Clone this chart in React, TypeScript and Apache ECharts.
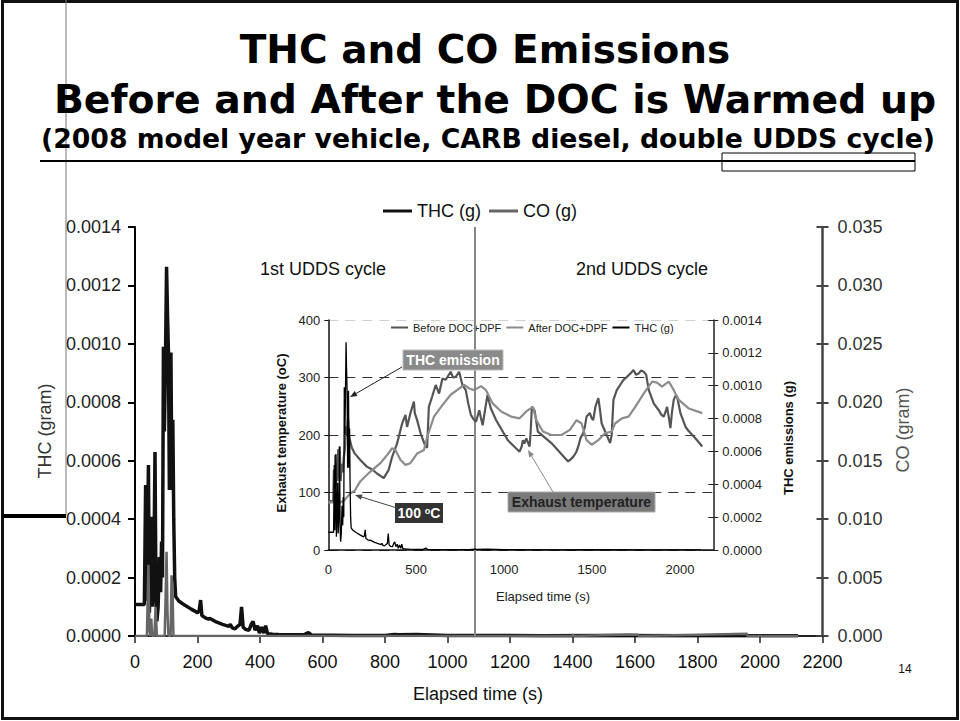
import React, { useEffect, useRef } from "react";
import * as echarts from "echarts";

// ---------- DATA ----------
// Main chart: THC (g) per second, elapsed time (s)
const thcTime = [0, 30, 34, 37, 40, 43, 46, 49, 53, 56, 60, 64, 67, 70, 74, 78, 82, 85, 88, 91, 94, 97, 101, 104, 107, 110, 113, 115, 118, 121, 124, 127, 130, 140, 160, 180, 200, 205, 210, 214, 225, 235, 240, 260, 280, 300, 305, 312, 320, 330, 336, 341, 346, 355, 365, 372, 378, 384, 392, 398, 405, 412, 418, 424, 440, 460, 500, 540, 555, 565, 700, 800, 830, 845, 900, 1000, 1300, 1500, 1800, 2000, 2122];
const thcValue = [0.000108, 0.000108, 0.000517, 0.00012, 0.0003, 0.000585, 0.00008, 0.0002, 0.000408, 0.0001, 0.0002, 0.00063, 0.00015, 0.00005, 0.0001, 0.00027, 0.00015, 0.000323, 0.0002, 0.00099, 0.0007, 0.0009, 0.001264, 0.0011, 0.00097, 0.0005, 0.0008, 0.00097, 0.0005, 0.00074, 0.0004, 0.0002, 0.000135, 0.00012, 0.000105, 0.000092, 0.00008, 0.000085, 0.000123, 0.00007, 0.000062, 0.000058, 0.00006, 0.000048, 0.00004, 0.000033, 0.00004, 0.000027, 0.000025, 0.000035, 0.00004, 0.0001, 0.00003, 0.000022, 0.00002, 0.00004, 0.00005, 0.00002, 0.000035, 0.00001, 0.00003, 0.00001, 0.000035, 0.000008, 0.000006, 0.000005, 0.000004, 0.000004, 0.000012, 0.000003, 0.000002, 0.000002, 0.000005, 0.000004, 0.000005, 0.000002, 0.000001, 0.000002, 0.000001, 0.000001, 0.000001];

// Main chart: CO (g) per second
const coTime = [0, 38, 43, 46, 49, 52, 55, 62, 66, 70, 95, 98, 101, 104, 107, 114, 117, 120, 123, 1400, 1402, 1404, 1550, 1580, 1610, 1612, 1958, 1960, 2122];
const coValue = [0, 0, 0.0061, 0.0005, 0, 0.0015, 0, 0, 0.0025, 0, 0, 0.0035, 0.0072, 0.002, 0, 0, 0.0052, 0.004, 0, 0, 0.00015, 0, 0.0001, 0.00012, 0.0001, 0, 0.0002, 0, 0];

// Inset: exhaust temperature before DOC+DPF (°C)
const beforeTime = [0, 28, 32, 36, 40, 44, 48, 52, 56, 60, 65, 70, 76, 82, 88, 94, 100, 106, 112, 118, 124, 134, 150, 181, 219, 250, 277, 315, 343, 363, 391, 420, 439, 448, 467, 487, 492, 506, 525, 553, 562, 572, 591, 611, 630, 649, 668, 682, 696, 710, 725, 744, 763, 782, 796, 811, 825, 840, 859, 868, 878, 895, 906, 915, 925, 954, 1021, 1088, 1100, 1107, 1115, 1126, 1145, 1150, 1158, 1165, 1173, 1192, 1269, 1364, 1380, 1393, 1410, 1422, 1435, 1450, 1460, 1469, 1478, 1488, 1497, 1507, 1520, 1536, 1545, 1555, 1603, 1612, 1622, 1641, 1660, 1679, 1695, 1708, 1722, 1736, 1750, 1765, 1780, 1794, 1808, 1823, 1851, 1880, 1895, 1908, 1918, 1927, 1940, 1946, 1955, 1965, 1975, 1984, 2003, 2032, 2050, 2080, 2100, 2127];
const beforeTemp = [85, 85, 140, 100, 165, 110, 150, 120, 175, 125, 180, 120, 150, 135, 160, 175, 215, 200, 230, 195, 190, 178, 168, 157, 145, 140, 133, 125, 139, 162, 185, 220, 235, 214, 238, 258, 238, 225, 203, 180, 178, 249, 267, 287, 272, 298, 296, 303, 310, 300, 301, 310, 287, 278, 255, 235, 228, 223, 243, 230, 217, 250, 270, 258, 246, 226, 191, 171, 180, 191, 185, 194, 180, 200, 249, 245, 243, 206, 186, 154, 158, 162, 170, 180, 195, 203, 215, 232, 235, 238, 230, 226, 250, 264, 245, 220, 186, 200, 261, 278, 287, 296, 300, 304, 308, 313, 305, 307, 312, 310, 305, 278, 255, 243, 235, 232, 240, 249, 225, 212, 240, 261, 268, 267, 238, 214, 207, 197, 190, 180];

// Inset: exhaust temperature after DOC+DPF (°C)
const afterTime = [0, 70, 90, 124, 150, 181, 238, 296, 334, 363, 382, 410, 439, 467, 506, 544, 563, 601, 649, 696, 754, 773, 801, 830, 868, 897, 935, 983, 1040, 1088, 1126, 1164, 1183, 1221, 1269, 1326, 1374, 1412, 1441, 1469, 1498, 1536, 1574, 1612, 1631, 1670, 1708, 1746, 1794, 1842, 1870, 1898, 1937, 1965, 1994, 2051, 2127];
const afterTemp = [83, 83, 86, 98, 103, 119, 136, 151, 165, 177, 174, 157, 148, 151, 168, 174, 197, 232, 252, 270, 283, 287, 281, 278, 285, 278, 255, 241, 232, 229, 241, 249, 226, 206, 200, 200, 209, 226, 220, 191, 183, 191, 203, 206, 220, 229, 232, 249, 272, 293, 291, 284, 293, 278, 261, 246, 238];

// boundary between the 1st and 2nd UDDS cycle (s)
const cycleBoundary = [1088];

// ---------- STYLE ----------
const FONT = '"Liberation Sans", Arial, sans-serif';
const TITLE_FONT = '"DejaVu Sans", Verdana, sans-serif';

const pairs = (t: number[], v: number[]) => t.map((x, i) => [x, v[i]]);

function arrow(x1: number, y1: number, x2: number, y2: number, color: string) {
  const dx = x2 - x1, dy = y2 - y1;
  const len = Math.hypot(dx, dy);
  const ux = dx / len, uy = dy / len;
  const L = 7, W = 2.8;
  return [
    { type: "line", z: 60, shape: { x1, y1, x2: x2 - ux * L * 0.7, y2: y2 - uy * L * 0.7 }, style: { stroke: color, lineWidth: 1 } },
    {
      type: "polygon", z: 60,
      shape: { points: [[x2, y2], [x2 - ux * L - uy * W, y2 - uy * L + ux * W], [x2 - ux * L + uy * W, y2 - uy * L - ux * W]] },
      style: { fill: color },
    },
  ];
}

function txt(x: number, y: number, text: string, size: number, opts: any = {}) {
  return {
    type: "text", x, y, z: opts.z || 50, rotation: opts.rotation || 0,
    style: {
      text, fontSize: size, fontFamily: opts.font || FONT, fontWeight: opts.weight || "normal",
      fill: opts.color || "#111", align: opts.align || "center", verticalAlign: "middle",
    },
  };
}

export default function App() {
  const ref = useRef<HTMLDivElement>(null);
  useEffect(() => {
    if (!ref.current) return;
    const chart = echarts.init(ref.current, null, { renderer: "svg" });
    const thcData = pairs(thcTime, thcValue);

    const graphic: any[] = [
      // slide frame and decorations
      { type: "rect", z: 1, shape: { x: 2.5, y: 1.5, width: 955, height: 717 }, style: { fill: "none", stroke: "#111", lineWidth: 3 } },
      { type: "line", z: 1, shape: { x1: 66, y1: 0, x2: 66, y2: 515 }, style: { stroke: "#777", lineWidth: 1 } },
      { type: "line", z: 1, shape: { x1: 3, y1: 516, x2: 66, y2: 516 }, style: { stroke: "#000", lineWidth: 4 } },
      { type: "line", z: 1, shape: { x1: 40, y1: 161, x2: 915, y2: 161 }, style: { stroke: "#000", lineWidth: 2 } },
      { type: "rect", z: 1, shape: { x: 722, y: 153, width: 193, height: 18 }, style: { fill: "none", stroke: "#000", lineWidth: 1 } },
      // titles
      txt(485, 49, "THC and CO Emissions", 39, { font: TITLE_FONT, weight: "bold", color: "#000" }),
      txt(495, 99, "Before and After the DOC is Warmed up", 39.3, { font: TITLE_FONT, weight: "bold", color: "#000" }),
      txt(488, 138, "(2008 model year vehicle, CARB diesel, double UDDS cycle)", 26.7, { font: TITLE_FONT, weight: "bold", color: "#000" }),
      // main axis titles
      txt(45, 431, "THC (gram)", 18, { rotation: Math.PI / 2, color: "#333" }),
      txt(903, 430, "CO (gram)", 18, { rotation: Math.PI / 2, color: "#555" }),
      txt(478, 694, "Elapsed time (s)", 18, { color: "#111" }),
      txt(323, 269, "1st UDDS cycle", 18, { color: "#111" }),
      txt(642, 269, "2nd UDDS cycle", 18, { color: "#111" }),
      txt(905, 669, "14", 12, { color: "#111" }),
      // inset axis titles
      txt(281, 433, "Exhaust temperature (oC)", 13, { rotation: Math.PI / 2, weight: "bold", color: "#111" }),
      txt(788, 438, "THC emissions (g)", 13, { rotation: Math.PI / 2, weight: "bold", color: "#111" }),
      txt(543, 596, "Elapsed time (s)", 13, { color: "#222" }),
      // annotations
      { type: "rect", z: 55, shape: { x: 403, y: 350, width: 100, height: 20 }, style: { fill: "#8a8a8a", stroke: "#bbb", lineWidth: 1 } },
      txt(453, 360, "THC emission", 14, { weight: "bold", color: "#fff", z: 57 }),
      { type: "rect", z: 55, shape: { x: 395, y: 503, width: 48, height: 20 }, style: { fill: "#333" } },
      {
        type: "text", x: 419, y: 513, z: 57,
        style: {
          text: "{a|100 }{b|o}{a|C}", align: "center", verticalAlign: "middle",
          rich: {
            a: { fontSize: 14, fontWeight: "bold", fontFamily: FONT, fill: "#fff" },
            b: { fontSize: 9, fontWeight: "bold", fontFamily: FONT, fill: "#fff", verticalAlign: "top" },
          },
        },
      },
      { type: "rect", z: 55, shape: { x: 508, y: 492, width: 147, height: 20 }, style: { fill: "#7a7a7a", stroke: "#aaa", lineWidth: 1 } },
      txt(581.5, 502, "Exhaust temperature", 14, { weight: "bold", color: "#222", z: 57 }),
      ...arrow(402, 367, 350, 397, "#222"),
      ...arrow(397, 508, 355, 495, "#444"),
      ...arrow(553, 492, 528, 450, "#888"),
    ];

    const option: any = {
      animation: false,
      backgroundColor: "#fff",
      textStyle: { fontFamily: FONT },
      legend: [
        {
          left: 378, top: 197, itemWidth: 29, itemHeight: 3, itemGap: 8, icon: "rect",
          textStyle: { fontSize: 18, color: "#111", fontFamily: FONT },
          data: ["THC (g)", "CO (g)"],
        },
        {
          left: 386, top: 317, itemWidth: 17, itemHeight: 2, itemGap: 5, icon: "rect",
          textStyle: { fontSize: 11, color: "#222", fontFamily: FONT },
          data: ["Before DOC+DPF", "After DOC+DPF", { name: "THC (g)", itemStyle: { color: "#000" } }],
        },
      ],
      grid: [
        { left: 135, top: 227, width: 687.5, height: 409, outerBoundsMode: "none" },
        { left: 328.3, top: 320, width: 385, height: 230, outerBoundsMode: "none" },
      ],
      xAxis: [
        {
          type: "value", gridIndex: 0, min: 0, max: 2200, interval: 200,
          axisLine: { lineStyle: { color: "#222", width: 2 } },
          axisTick: { length: 7, lineStyle: { color: "#222", width: 1.5 } },
          axisLabel: { fontSize: 18, color: "#111", margin: 17, formatter: (v: number) => String(v) },
          splitLine: { show: false },
        },
        {
          type: "value", gridIndex: 1, min: 0, max: 2190, interval: 500,
          axisLine: { lineStyle: { color: "#111", width: 1.5 } },
          axisTick: { show: false },
          axisLabel: { fontSize: 13, color: "#222", margin: 13, showMaxLabel: false, formatter: (v: number) => String(v) },
          splitLine: { show: false },
        },
      ],
      yAxis: [
        {
          type: "value", gridIndex: 0, position: "left", min: 0, max: 0.0014, interval: 0.0002,
          axisLine: { show: true, lineStyle: { color: "#000", width: 2 } },
          axisTick: { show: true, length: 7, lineStyle: { color: "#000", width: 2 } },
          axisLabel: { fontSize: 18, color: "#222", margin: 14, formatter: (v: number) => v.toFixed(4) },
          splitLine: { show: false },
        },
        {
          type: "value", gridIndex: 0, position: "right", min: 0, max: 0.035, interval: 0.005,
          axisLine: { show: true, lineStyle: { color: "#444", width: 2.5 } },
          axisTick: { show: true, length: 6, lineStyle: { color: "#444", width: 2 } },
          axisLabel: { fontSize: 18, color: "#333", margin: 15, formatter: (v: number) => v.toFixed(3) },
          splitLine: { show: false },
        },
        {
          type: "value", gridIndex: 0, position: "right", min: 0, max: 0.035, interval: 0.005,
          axisLine: { show: false },
          axisTick: { show: true, inside: true, length: 6, lineStyle: { color: "#444", width: 2 } },
          axisLabel: { show: false },
          splitLine: { show: false },
        },
        {
          type: "value", gridIndex: 1, position: "left", min: 0, max: 400, interval: 100,
          axisLine: { show: true, lineStyle: { color: "#111", width: 1.5 } },
          axisTick: { show: true, length: 4, lineStyle: { color: "#111" } },
          axisLabel: { fontSize: 13, color: "#222", margin: 8 },
          splitLine: { show: true, lineStyle: { color: ["#333", "#333", "#333", "#333", "#d0d0d0"], type: [10, 7], width: 1 } },
        },
        {
          type: "value", gridIndex: 1, position: "right", min: 0, max: 0.0014, interval: 0.0002,
          axisLine: { show: true, lineStyle: { color: "#222", width: 1.5 } },
          axisTick: { show: true, length: 5, lineStyle: { color: "#222" } },
          axisLabel: { fontSize: 13, color: "#222", margin: 9, formatter: (v: number) => v.toFixed(4) },
          splitLine: { show: false },
        },
        {
          type: "value", gridIndex: 1, position: "right", min: 0, max: 0.0014, interval: 0.0002,
          axisLine: { show: false },
          axisTick: { show: true, inside: true, length: 5, lineStyle: { color: "#222" } },
          axisLabel: { show: false },
          splitLine: { show: false },
        },
      ],
      series: [
        {
          name: "THC (g)", type: "line", xAxisIndex: 0, yAxisIndex: 0, data: thcData,
          symbol: "none", color: "#111", lineStyle: { color: "#111", width: 3.5 }, z: 3,
          markLine: {
            silent: true, symbol: "none", label: { show: false },
            lineStyle: { color: "#888", width: 2, type: "solid" },
            data: cycleBoundary.map((x) => ({ xAxis: x })),
          },
        },
        {
          name: "CO (g)", type: "line", xAxisIndex: 0, yAxisIndex: 1, data: pairs(coTime, coValue),
          symbol: "none", color: "#666", lineStyle: { color: "#666", width: 2.5 }, z: 4,
        },
        {
          name: "Before DOC+DPF", type: "line", xAxisIndex: 1, yAxisIndex: 3, data: pairs(beforeTime, beforeTemp),
          symbol: "none", color: "#555", lineStyle: { color: "#555", width: 2.2 }, z: 5,
        },
        {
          name: "After DOC+DPF", type: "line", xAxisIndex: 1, yAxisIndex: 3, data: pairs(afterTime, afterTemp),
          symbol: "none", color: "#8c8c8c", lineStyle: { color: "#8c8c8c", width: 2.2 }, z: 5,
        },
        {
          name: "THC (g)", type: "line", xAxisIndex: 1, yAxisIndex: 4, data: thcData,
          symbol: "none", color: "#000", lineStyle: { color: "#000", width: 1.3 }, z: 6,
        },
      ],
      graphic,
    };
    chart.setOption(option);
    return () => chart.dispose();
  }, []);
  return <div ref={ref} style={{ position: "absolute", left: 0, top: 0, width: 960, height: 721 }} />;
}
